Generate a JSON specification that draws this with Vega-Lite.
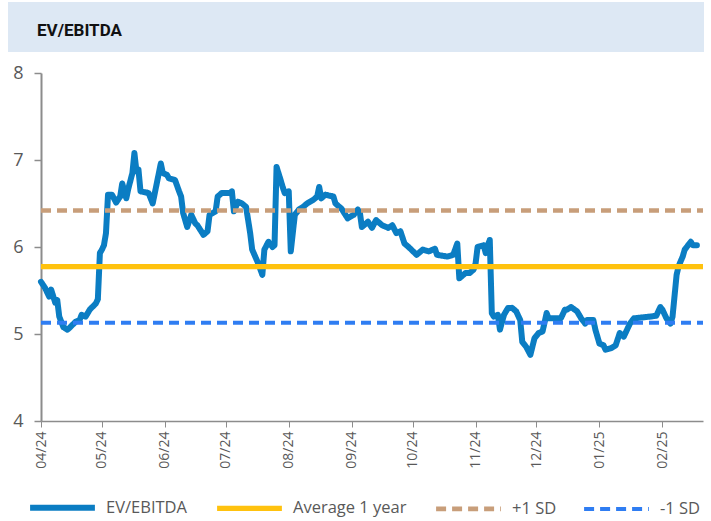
{
  "$schema": "https://vega.github.io/schema/vega-lite/v6.json",
  "padding": {"left": 8, "top": 2, "right": 0, "bottom": 0},
  "background": "white",
  "spacing": 12,
  "config": {"view": {"stroke": null}, "font": "Open Sans"},
  "vconcat": [
    {
      "width": 696,
      "height": 50,
      "view": {"fill": "#dde8f4", "stroke": null},
      "data": {"values": [{"label": "EV/EBITDA"}]},
      "mark": {"type": "text", "align": "left", "baseline": "middle", "font": "Roboto", "fontSize": 17, "fontWeight": "bold", "color": "#111111"},
      "encoding": {"text": {"field": "label"}, "x": {"value": 29}, "y": {"value": 29}}
    },
    {
      "width": 696,
      "height": 348,
      "data": {"values": [
        {"d":"2024-04-01","v":5.60,"s":"EV/EBITDA"},
        {"d":"2024-04-03","v":5.53,"s":"EV/EBITDA"},
        {"d":"2024-04-05","v":5.43,"s":"EV/EBITDA"},
        {"d":"2024-04-06","v":5.51,"s":"EV/EBITDA"},
        {"d":"2024-04-08","v":5.36,"s":"EV/EBITDA"},
        {"d":"2024-04-09","v":5.39,"s":"EV/EBITDA"},
        {"d":"2024-04-10","v":5.20,"s":"EV/EBITDA"},
        {"d":"2024-04-12","v":5.08,"s":"EV/EBITDA"},
        {"d":"2024-04-14","v":5.05,"s":"EV/EBITDA"},
        {"d":"2024-04-15","v":5.07,"s":"EV/EBITDA"},
        {"d":"2024-04-18","v":5.14,"s":"EV/EBITDA"},
        {"d":"2024-04-20","v":5.16,"s":"EV/EBITDA"},
        {"d":"2024-04-21","v":5.22,"s":"EV/EBITDA"},
        {"d":"2024-04-23","v":5.20,"s":"EV/EBITDA"},
        {"d":"2024-04-25","v":5.28,"s":"EV/EBITDA"},
        {"d":"2024-04-28","v":5.35,"s":"EV/EBITDA"},
        {"d":"2024-04-29","v":5.40,"s":"EV/EBITDA"},
        {"d":"2024-04-30","v":5.93,"s":"EV/EBITDA"},
        {"d":"2024-05-01","v":5.97,"s":"EV/EBITDA"},
        {"d":"2024-05-02","v":6.02,"s":"EV/EBITDA"},
        {"d":"2024-05-03","v":6.16,"s":"EV/EBITDA"},
        {"d":"2024-05-04","v":6.60,"s":"EV/EBITDA"},
        {"d":"2024-05-06","v":6.60,"s":"EV/EBITDA"},
        {"d":"2024-05-08","v":6.51,"s":"EV/EBITDA"},
        {"d":"2024-05-10","v":6.58,"s":"EV/EBITDA"},
        {"d":"2024-05-11","v":6.73,"s":"EV/EBITDA"},
        {"d":"2024-05-13","v":6.56,"s":"EV/EBITDA"},
        {"d":"2024-05-14","v":6.67,"s":"EV/EBITDA"},
        {"d":"2024-05-16","v":6.85,"s":"EV/EBITDA"},
        {"d":"2024-05-17","v":7.08,"s":"EV/EBITDA"},
        {"d":"2024-05-18","v":6.87,"s":"EV/EBITDA"},
        {"d":"2024-05-19","v":6.89,"s":"EV/EBITDA"},
        {"d":"2024-05-20","v":6.64,"s":"EV/EBITDA"},
        {"d":"2024-05-24","v":6.62,"s":"EV/EBITDA"},
        {"d":"2024-05-26","v":6.50,"s":"EV/EBITDA"},
        {"d":"2024-05-28","v":6.73,"s":"EV/EBITDA"},
        {"d":"2024-05-30","v":6.96,"s":"EV/EBITDA"},
        {"d":"2024-05-31","v":6.85,"s":"EV/EBITDA"},
        {"d":"2024-06-02","v":6.83,"s":"EV/EBITDA"},
        {"d":"2024-06-03","v":6.79,"s":"EV/EBITDA"},
        {"d":"2024-06-06","v":6.77,"s":"EV/EBITDA"},
        {"d":"2024-06-08","v":6.64,"s":"EV/EBITDA"},
        {"d":"2024-06-09","v":6.58,"s":"EV/EBITDA"},
        {"d":"2024-06-10","v":6.39,"s":"EV/EBITDA"},
        {"d":"2024-06-12","v":6.23,"s":"EV/EBITDA"},
        {"d":"2024-06-14","v":6.37,"s":"EV/EBITDA"},
        {"d":"2024-06-16","v":6.27,"s":"EV/EBITDA"},
        {"d":"2024-06-17","v":6.25,"s":"EV/EBITDA"},
        {"d":"2024-06-20","v":6.14,"s":"EV/EBITDA"},
        {"d":"2024-06-22","v":6.18,"s":"EV/EBITDA"},
        {"d":"2024-06-23","v":6.37,"s":"EV/EBITDA"},
        {"d":"2024-06-26","v":6.41,"s":"EV/EBITDA"},
        {"d":"2024-06-27","v":6.58,"s":"EV/EBITDA"},
        {"d":"2024-06-29","v":6.62,"s":"EV/EBITDA"},
        {"d":"2024-07-03","v":6.62,"s":"EV/EBITDA"},
        {"d":"2024-07-04","v":6.64,"s":"EV/EBITDA"},
        {"d":"2024-07-05","v":6.41,"s":"EV/EBITDA"},
        {"d":"2024-07-07","v":6.52,"s":"EV/EBITDA"},
        {"d":"2024-07-09","v":6.50,"s":"EV/EBITDA"},
        {"d":"2024-07-11","v":6.46,"s":"EV/EBITDA"},
        {"d":"2024-07-13","v":6.16,"s":"EV/EBITDA"},
        {"d":"2024-07-14","v":5.97,"s":"EV/EBITDA"},
        {"d":"2024-07-17","v":5.81,"s":"EV/EBITDA"},
        {"d":"2024-07-19","v":5.68,"s":"EV/EBITDA"},
        {"d":"2024-07-20","v":5.97,"s":"EV/EBITDA"},
        {"d":"2024-07-22","v":6.06,"s":"EV/EBITDA"},
        {"d":"2024-07-24","v":6.00,"s":"EV/EBITDA"},
        {"d":"2024-07-25","v":6.02,"s":"EV/EBITDA"},
        {"d":"2024-07-26","v":6.92,"s":"EV/EBITDA"},
        {"d":"2024-07-28","v":6.77,"s":"EV/EBITDA"},
        {"d":"2024-07-29","v":6.69,"s":"EV/EBITDA"},
        {"d":"2024-07-30","v":6.62,"s":"EV/EBITDA"},
        {"d":"2024-08-01","v":6.64,"s":"EV/EBITDA"},
        {"d":"2024-08-02","v":5.95,"s":"EV/EBITDA"},
        {"d":"2024-08-04","v":6.37,"s":"EV/EBITDA"},
        {"d":"2024-08-06","v":6.43,"s":"EV/EBITDA"},
        {"d":"2024-08-08","v":6.46,"s":"EV/EBITDA"},
        {"d":"2024-08-10","v":6.50,"s":"EV/EBITDA"},
        {"d":"2024-08-13","v":6.54,"s":"EV/EBITDA"},
        {"d":"2024-08-15","v":6.58,"s":"EV/EBITDA"},
        {"d":"2024-08-16","v":6.69,"s":"EV/EBITDA"},
        {"d":"2024-08-17","v":6.56,"s":"EV/EBITDA"},
        {"d":"2024-08-19","v":6.60,"s":"EV/EBITDA"},
        {"d":"2024-08-23","v":6.58,"s":"EV/EBITDA"},
        {"d":"2024-08-24","v":6.50,"s":"EV/EBITDA"},
        {"d":"2024-08-27","v":6.44,"s":"EV/EBITDA"},
        {"d":"2024-08-30","v":6.33,"s":"EV/EBITDA"},
        {"d":"2024-09-02","v":6.37,"s":"EV/EBITDA"},
        {"d":"2024-09-04","v":6.43,"s":"EV/EBITDA"},
        {"d":"2024-09-05","v":6.40,"s":"EV/EBITDA"},
        {"d":"2024-09-06","v":6.23,"s":"EV/EBITDA"},
        {"d":"2024-09-09","v":6.29,"s":"EV/EBITDA"},
        {"d":"2024-09-11","v":6.22,"s":"EV/EBITDA"},
        {"d":"2024-09-13","v":6.31,"s":"EV/EBITDA"},
        {"d":"2024-09-16","v":6.25,"s":"EV/EBITDA"},
        {"d":"2024-09-19","v":6.22,"s":"EV/EBITDA"},
        {"d":"2024-09-21","v":6.25,"s":"EV/EBITDA"},
        {"d":"2024-09-23","v":6.16,"s":"EV/EBITDA"},
        {"d":"2024-09-25","v":6.18,"s":"EV/EBITDA"},
        {"d":"2024-09-27","v":6.04,"s":"EV/EBITDA"},
        {"d":"2024-09-29","v":6.00,"s":"EV/EBITDA"},
        {"d":"2024-10-03","v":5.91,"s":"EV/EBITDA"},
        {"d":"2024-10-06","v":5.97,"s":"EV/EBITDA"},
        {"d":"2024-10-09","v":5.95,"s":"EV/EBITDA"},
        {"d":"2024-10-12","v":5.98,"s":"EV/EBITDA"},
        {"d":"2024-10-13","v":5.91,"s":"EV/EBITDA"},
        {"d":"2024-10-18","v":5.89,"s":"EV/EBITDA"},
        {"d":"2024-10-21","v":5.91,"s":"EV/EBITDA"},
        {"d":"2024-10-23","v":6.04,"s":"EV/EBITDA"},
        {"d":"2024-10-24","v":5.64,"s":"EV/EBITDA"},
        {"d":"2024-10-27","v":5.70,"s":"EV/EBITDA"},
        {"d":"2024-10-29","v":5.70,"s":"EV/EBITDA"},
        {"d":"2024-10-31","v":5.74,"s":"EV/EBITDA"},
        {"d":"2024-11-01","v":5.81,"s":"EV/EBITDA"},
        {"d":"2024-11-02","v":6.00,"s":"EV/EBITDA"},
        {"d":"2024-11-05","v":6.02,"s":"EV/EBITDA"},
        {"d":"2024-11-06","v":5.93,"s":"EV/EBITDA"},
        {"d":"2024-11-07","v":6.02,"s":"EV/EBITDA"},
        {"d":"2024-11-08","v":6.08,"s":"EV/EBITDA"},
        {"d":"2024-11-09","v":5.24,"s":"EV/EBITDA"},
        {"d":"2024-11-10","v":5.20,"s":"EV/EBITDA"},
        {"d":"2024-11-12","v":5.22,"s":"EV/EBITDA"},
        {"d":"2024-11-13","v":5.05,"s":"EV/EBITDA"},
        {"d":"2024-11-15","v":5.22,"s":"EV/EBITDA"},
        {"d":"2024-11-17","v":5.30,"s":"EV/EBITDA"},
        {"d":"2024-11-19","v":5.30,"s":"EV/EBITDA"},
        {"d":"2024-11-21","v":5.26,"s":"EV/EBITDA"},
        {"d":"2024-11-23","v":5.16,"s":"EV/EBITDA"},
        {"d":"2024-11-24","v":4.91,"s":"EV/EBITDA"},
        {"d":"2024-11-26","v":4.85,"s":"EV/EBITDA"},
        {"d":"2024-11-28","v":4.76,"s":"EV/EBITDA"},
        {"d":"2024-11-30","v":4.95,"s":"EV/EBITDA"},
        {"d":"2024-12-02","v":5.01,"s":"EV/EBITDA"},
        {"d":"2024-12-04","v":5.03,"s":"EV/EBITDA"},
        {"d":"2024-12-06","v":5.24,"s":"EV/EBITDA"},
        {"d":"2024-12-07","v":5.18,"s":"EV/EBITDA"},
        {"d":"2024-12-10","v":5.18,"s":"EV/EBITDA"},
        {"d":"2024-12-13","v":5.18,"s":"EV/EBITDA"},
        {"d":"2024-12-15","v":5.28,"s":"EV/EBITDA"},
        {"d":"2024-12-16","v":5.28,"s":"EV/EBITDA"},
        {"d":"2024-12-18","v":5.31,"s":"EV/EBITDA"},
        {"d":"2024-12-21","v":5.26,"s":"EV/EBITDA"},
        {"d":"2024-12-23","v":5.18,"s":"EV/EBITDA"},
        {"d":"2024-12-25","v":5.12,"s":"EV/EBITDA"},
        {"d":"2024-12-26","v":5.16,"s":"EV/EBITDA"},
        {"d":"2024-12-29","v":5.16,"s":"EV/EBITDA"},
        {"d":"2024-12-30","v":5.05,"s":"EV/EBITDA"},
        {"d":"2025-01-01","v":4.89,"s":"EV/EBITDA"},
        {"d":"2025-01-03","v":4.87,"s":"EV/EBITDA"},
        {"d":"2025-01-04","v":4.82,"s":"EV/EBITDA"},
        {"d":"2025-01-07","v":4.84,"s":"EV/EBITDA"},
        {"d":"2025-01-09","v":4.87,"s":"EV/EBITDA"},
        {"d":"2025-01-11","v":5.01,"s":"EV/EBITDA"},
        {"d":"2025-01-13","v":4.97,"s":"EV/EBITDA"},
        {"d":"2025-01-16","v":5.12,"s":"EV/EBITDA"},
        {"d":"2025-01-18","v":5.18,"s":"EV/EBITDA"},
        {"d":"2025-01-22","v":5.19,"s":"EV/EBITDA"},
        {"d":"2025-01-26","v":5.20,"s":"EV/EBITDA"},
        {"d":"2025-01-29","v":5.21,"s":"EV/EBITDA"},
        {"d":"2025-01-31","v":5.31,"s":"EV/EBITDA"},
        {"d":"2025-02-01","v":5.28,"s":"EV/EBITDA"},
        {"d":"2025-02-03","v":5.18,"s":"EV/EBITDA"},
        {"d":"2025-02-05","v":5.12,"s":"EV/EBITDA"},
        {"d":"2025-02-06","v":5.20,"s":"EV/EBITDA"},
        {"d":"2025-02-08","v":5.68,"s":"EV/EBITDA"},
        {"d":"2025-02-09","v":5.78,"s":"EV/EBITDA"},
        {"d":"2025-02-11","v":5.89,"s":"EV/EBITDA"},
        {"d":"2025-02-12","v":5.97,"s":"EV/EBITDA"},
        {"d":"2025-02-13","v":6.00,"s":"EV/EBITDA"},
        {"d":"2025-02-15","v":6.06,"s":"EV/EBITDA"},
        {"d":"2025-02-16","v":6.02,"s":"EV/EBITDA"},
        {"d":"2025-02-18","v":6.02,"s":"EV/EBITDA"},
        {"d":"2024-04-01","v":5.775,"s":"Average 1 year"},
        {"d":"2025-02-21","v":5.775,"s":"Average 1 year"},
        {"d":"2024-04-01","v":6.42,"s":"+1 SD"},
        {"d":"2025-02-21","v":6.42,"s":"+1 SD"},
        {"d":"2024-04-01","v":5.13,"s":"-1 SD"},
        {"d":"2025-02-21","v":5.13,"s":"-1 SD"}
      ]},
      "encoding": {
        "x": {
          "field": "d", "type": "temporal",
          "scale": {"type": "utc", "domain": [{"year": 2024, "month": 4, "date": 1, "utc": true}, {"year": 2025, "month": 2, "date": 21, "utc": true}], "range": [33, 695]},
          "axis": {"title": null, "grid": false, "format": "%m/%y", "tickCount": {"interval": "month", "step": 1}, "labelAngle": -90, "labelFontSize": 14, "labelColor": "#595959", "labelFont": "Open Sans", "domainColor": "#8c8c8c", "domainWidth": 1.5, "tickColor": "#8c8c8c", "tickSize": 6, "labelPadding": 4, "labelFlush": false, "labelOverlap": false}
        },
        "y": {
          "field": "v", "type": "quantitative",
          "scale": {"domain": [4, 8], "nice": false, "zero": false},
          "axis": {"title": null, "grid": false, "values": [4, 5, 6, 7, 8], "offset": -33, "labelFontSize": 18, "labelColor": "#595959", "labelFont": "Open Sans", "domainColor": "#8c8c8c", "domainWidth": 2, "tickColor": "#8c8c8c", "tickWidth": 1.5, "tickSize": 7, "labelPadding": 11}
        },
        "color": {
          "field": "s", "type": "nominal",
          "scale": {"domain": ["EV/EBITDA", "Average 1 year", "+1 SD", "-1 SD"], "range": ["#0b7dc3", "#ffc20e", "#c89e7a", "#2f7df2"]},
          "legend": {"orient": "none", "legendX": 19, "legendY": 470, "direction": "horizontal", "columns": 4, "title": null, "symbolType": "stroke", "symbolSize": 4200, "labelFontSize": 16.5, "labelColor": "#595959", "labelFont": "Open Sans", "columnPadding": 19, "labelOffset": 8, "padding": 0}
        },
        "strokeDash": {
          "field": "s", "type": "nominal",
          "scale": {"domain": ["EV/EBITDA", "Average 1 year", "+1 SD", "-1 SD"], "range": [[1, 0], [1, 0], [10, 6], [10, 6]]}
        },
        "strokeWidth": {
          "field": "s", "type": "ordinal",
          "scale": {"domain": ["EV/EBITDA", "Average 1 year", "+1 SD", "-1 SD"], "range": [6, 4, 4, 4]}
        }
      },
      "layer": [
        {"transform": [{"filter": "datum.s === 'EV/EBITDA'"}], "mark": {"type": "line", "strokeJoin": "round", "strokeCap": "round"}},
        {"transform": [{"filter": "datum.s !== 'EV/EBITDA'"}], "mark": {"type": "line"}}
      ]
    }
  ]
}
